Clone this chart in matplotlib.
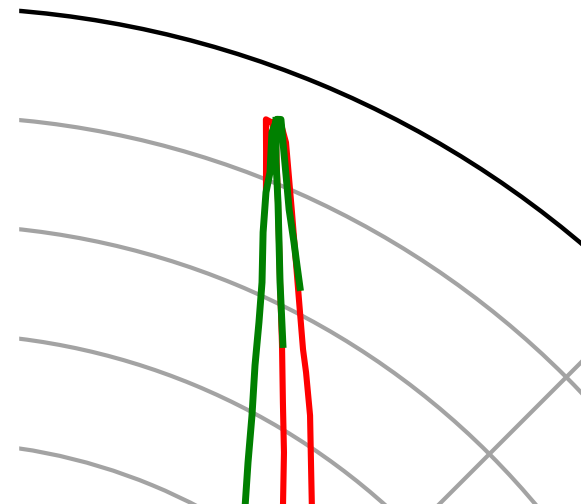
import matplotlib
matplotlib.use('Agg')
import matplotlib.pyplot as plt
from matplotlib.patches import Rectangle
import numpy as np

# polar pattern, angle in degrees, level in dB (nan = gap between strokes)
red_theta = [68.08, 68.89, 69.62, 69.21, 68.80, 67.97, 65.88, 63.31, 60.85,
             59.77, 57.71, 55.47, 53.12, 50.96, np.nan,
             53.19, 55.29, 57.91, 60.17, 62.44, 64.61, 66.98, 68.54, 69.21]
red_db = [-5.34, -3.84, -2.42, -2.46, -2.24, -3.08, -5.93, -8.93, -11.34,
          -12.19, -13.79, -15.57, -17.19, -18.46, np.nan,
          -19.28, -17.97, -15.87, -13.92, -11.60, -9.09, -5.77, -3.25, -2.46]

green_theta = [57.12, 58.33, 60.21, 61.91, 63.58, 64.76, 65.79, 67.12, 67.96,
               68.20, 69.00, 69.00, 68.77, 68.14, 67.18, 66.13, 64.92, 64.06,
               63.18, np.nan,
               69.03, 68.08, 66.98, 65.85, 64.61, 62.38]
green_db = [-19.98, -18.92, -17.11, -15.13, -13.02, -11.16, -9.43, -7.30, -5.55,
            -4.63, -2.88, -2.24, -2.18, -3.13, -4.48, -5.86, -7.15, -8.04,
            -8.89, np.nan,
            -2.30, -4.10, -5.77, -7.43, -9.09, -11.58]

r_min, r_max = -46, 0
r_ticks = [-5, -10, -15, -20, -25, -30, -35, -40, -45]

fig = plt.figure(figsize=(5.81, 5.04), dpi=100)
# only a corner of a large polar plot is visible
ax = fig.add_axes([-1.8313, -2.9830, 3.4423, 3.9683], projection='polar')

ax.plot(np.radians(red_theta), red_db, color='red', lw=4.4, solid_joinstyle='round')
ax.plot(np.radians(green_theta), green_db, color='green', lw=5.0, solid_joinstyle='round')

ax.set_rlim(r_min, r_max)
ax.set_rticks(r_ticks)
ax.set_thetagrids(np.arange(0, 360, 45))
ax.set_xticklabels([])
ax.set_yticklabels([])
ax.grid(True, color='#a3a3a3', lw=3.0)
ax.spines['polar'].set_linewidth(3.2)
ax.spines['polar'].set_color('black')

fig.add_artist(Rectangle((0, 0), 18 / 581, 1, transform=fig.transFigure,
                         color='white', zorder=10))

fig.savefig('out.png', dpi=100)
